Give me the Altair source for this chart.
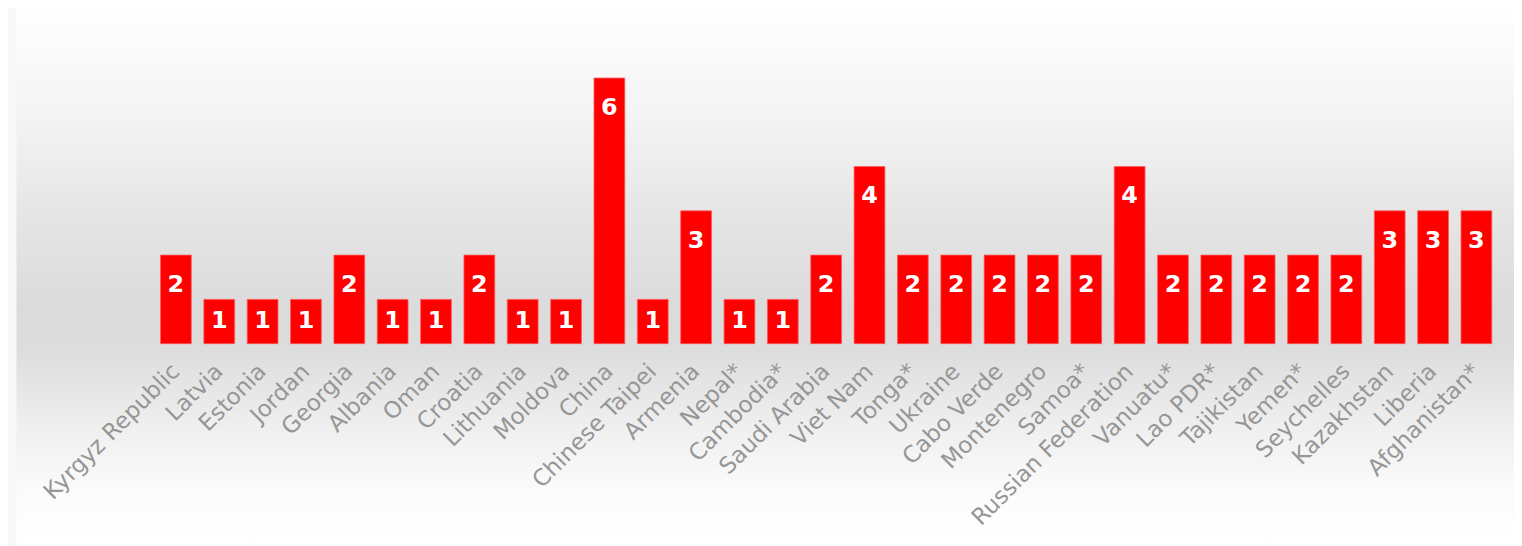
import altair as alt
import pandas as pd

countries = ["Kyrgyz Republic", "Latvia", "Estonia", "Jordan", "Georgia", "Albania", "Oman",
             "Croatia", "Lithuania", "Moldova", "China", "Chinese Taipei", "Armenia", "Nepal*",
             "Cambodia*", "Saudi Arabia", "Viet Nam", "Tonga*", "Ukraine", "Cabo Verde",
             "Montenegro", "Samoa*", "Russian Federation", "Vanuatu*", "Lao PDR*", "Tajikistan",
             "Yemen*", "Seychelles", "Kazakhstan", "Liberia", "Afghanistan*"]
values = [2, 1, 1, 1, 2, 1, 1, 2, 1, 1, 6, 1, 3, 1, 1, 2, 4, 2, 2, 2, 2, 2, 4, 2, 2, 2, 2, 2, 3, 3, 3]

df = pd.DataFrame({"country": countries, "value": values})

W = 1351
H = 311.5
UNIT = H / 7.0

xscale = alt.Scale(domain=countries, paddingInner=0.29, paddingOuter=0.145)
yscale = alt.Scale(domain=[0, 7], nice=False)

bg = alt.Chart(pd.DataFrame({"a": [0]})).mark_rect(
    color=alt.Gradient(
        gradient="linear", x1=0, x2=0, y1=0, y2=1,
        stops=[
            alt.GradientStop(offset=0.0, color="#ffffff"),
            alt.GradientStop(offset=0.2, color="#f4f4f4"),
            alt.GradientStop(offset=0.38, color="#e6e6e6"),
            alt.GradientStop(offset=0.56, color="#dbdbdb"),
            alt.GradientStop(offset=0.64, color="#dddddd"),
            alt.GradientStop(offset=0.77, color="#eeeeee"),
            alt.GradientStop(offset=0.9, color="#fbfbfb"),
            alt.GradientStop(offset=1.0, color="#ffffff"),
        ],
    ),
).encode(
    x=alt.value(-138.5), x2=alt.value(W + 40),
    y=alt.value(-29.5), y2=alt.value(H + 203),
)

bars = alt.Chart(df).mark_bar(color="#ff0000", stroke="#ff5a5a", strokeWidth=0.8).encode(
    x=alt.X("country:N", scale=xscale, title=None,
            axis=alt.Axis(labelAngle=-45, labelAlign="right", labelBaseline="middle",
                          labelFont="DejaVu Sans", labelFontSize=23, labelColor="#969696",
                          labelPadding=24, labelLimit=0, domain=False, ticks=False,
                          labelOverlap=False, zindex=1)),
    y=alt.Y("value:Q", scale=yscale, axis=None),
)

labels = alt.Chart(df).transform_calculate(
    ly=f"max(datum.value / 2, datum.value - {round(30.0 / UNIT, 4)})"
).mark_text(color="white", font="DejaVu Sans", fontWeight="bold", fontSize=24,
            baseline="middle", align="center").encode(
    x=alt.X("country:N", scale=xscale),
    y=alt.Y("ly:Q", scale=yscale),
    text="value:Q",
)

chart = alt.layer(bg, bars, labels).properties(
    width=W, height=H,
    autosize=alt.AutoSizeParams(type="none"),
    padding={"left": 147, "top": 24.5, "right": 16, "bottom": 202},
    background="#f8f8f8",
).configure_view(strokeWidth=0)

chart.save("out.html", embed_options={"renderer": "svg", "actions": False})
